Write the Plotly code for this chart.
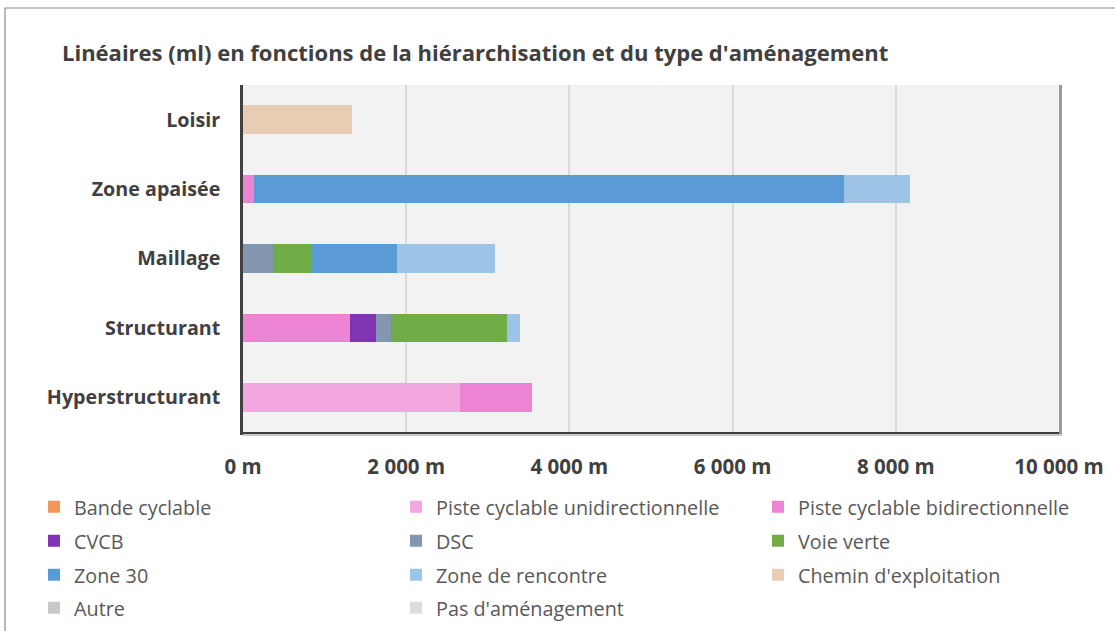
import plotly.graph_objects as go

W, H = 1115, 631

categories = ["Hyperstructurant", "Structurant", "Maillage", "Zone apaisée", "Loisir"]

series_names = ["Bande cyclable", "Piste cyclable unidirectionnelle", "Piste cyclable bidirectionnelle",
                "CVCB", "DSC", "Voie verte", "Zone 30", "Zone de rencontre",
                "Chemin d'exploitation", "Autre", "Pas d'aménagement"]
series_colors = ["#F0975A", "#F2A7DF", "#EC83D3", "#7F35B2", "#8497B0", "#70AD47",
                 "#5B9BD5", "#9DC3E6", "#E6CDB3", "#C9C9C9", "#DCDCDC"]

bande_cyclable = [0, 0, 0, 0, 0]
piste_uni = [2660, 0, 0, 0, 0]
piste_bidi = [885, 1310, 0, 135, 0]
cvcb = [0, 320, 0, 0, 0]
dsc = [0, 185, 370, 0, 0]
voie_verte = [0, 1415, 475, 0, 0]
zone_30 = [0, 0, 1040, 7230, 0]
zone_rencontre = [0, 160, 1207, 807, 0]
chemin = [0, 0, 0, 0, 1340]
autre = [0, 0, 0, 0, 0]
pas_amenagement = [0, 0, 0, 0, 0]

series_values = [bande_cyclable, piste_uni, piste_bidi, cvcb, dsc, voie_verte,
                 zone_30, zone_rencontre, chemin, autre, pas_amenagement]

tick_vals = [0, 2000, 4000, 6000, 8000, 10000]
tick_text = ["0 m", "2 000 m", "4 000 m", "6 000 m", "8 000 m", "10 000 m"]

title_text = "Linéaires (ml) en fonctions de la hiérarchisation et du type d'aménagement"

FONT = "Open Sans"
legend_ids = ["legend", "legend2", "legend3", "legend4"]
legend_rows_y = [507, 541, 575, 608]

fig = go.Figure()
for i, (name, color, vals) in enumerate(zip(series_names, series_colors, series_values)):
    fig.add_trace(go.Bar(
        y=categories, x=vals, name=name, orientation="h",
        marker=dict(color=color, line=dict(width=0)),
        legend=legend_ids[i // 3],
    ))

x0p, x1p = 243 / W, 1059 / W
y0p, y1p = 1 - 432 / H, 1 - 85 / H

layout_legends = {}
for lid, ry in zip(legend_ids, legend_rows_y):
    layout_legends[lid] = dict(
        orientation="h", x=34 / W, xanchor="left", y=1 - ry / H, yanchor="middle",
        entrywidth=317, entrywidthmode="pixels", traceorder="normal",
        font=dict(family=FONT, size=19.8, color="#595959"),
        itemclick=False, itemdoubleclick=False, bgcolor="rgba(0,0,0,0)",
        itemwidth=30,
    )

fig.update_layout(
    width=W, height=H,
    barmode="stack", bargap=0.59,
    margin=dict(l=0, r=0, t=0, b=0, autoexpand=False),
    paper_bgcolor="white", plot_bgcolor="#F2F2F2",
    font=dict(family=FONT, color="#404040"),
    title=dict(text="<b>" + title_text + "</b>", x=62 / W, xanchor="left",
               y=1 - 53 / H, yanchor="middle",
               font=dict(family=FONT, size=22, color="#404040")),
    xaxis=dict(domain=[x0p, x1p], range=[0, 10000], tickvals=tick_vals, ticktext=tick_text,
               showgrid=True, gridcolor="#D9D9D9", gridwidth=1.5, zeroline=False,
               showline=True, linecolor="#404040", linewidth=2.5, automargin=False,
               tickfont=dict(family=FONT, size=20.5, color="#404040", weight="bold"),
               ticks="", ticklabelstandoff=15, fixedrange=True),
    yaxis=dict(domain=[y0p, y1p], showgrid=False, zeroline=False,
               showline=True, linecolor="#404040", linewidth=2.5, automargin=False,
               tickfont=dict(family=FONT, size=19.7, color="#404040", weight="bold"),
               ticks="", ticklabelstandoff=16, fixedrange=True),
    showlegend=True,
    shapes=[
        dict(type="rect", xref="paper", yref="paper", x0=5 / W, x1=1.2, y0=-0.2, y1=1 - 8 / H,
             line=dict(color="#8C8C8C", width=1.2), fillcolor="rgba(0,0,0,0)", layer="below"),
        dict(type="line", xref="paper", yref="paper", x0=x1p + 1.5 / W, x1=x1p + 1.5 / W,
             y0=y0p - 2 / H, y1=y1p, line=dict(color="#9A9A9A", width=3)),
        dict(type="line", xref="paper", yref="paper", x0=x0p, x1=x1p + 3 / W,
             y0=y0p - 3 / H, y1=y0p - 3 / H, line=dict(color="#C8C8C8", width=2)),
    ],
    **layout_legends,
)

fig.write_html("out.html", config={"displayModeBar": False},
               post_script="document.body.style.margin='0';")
